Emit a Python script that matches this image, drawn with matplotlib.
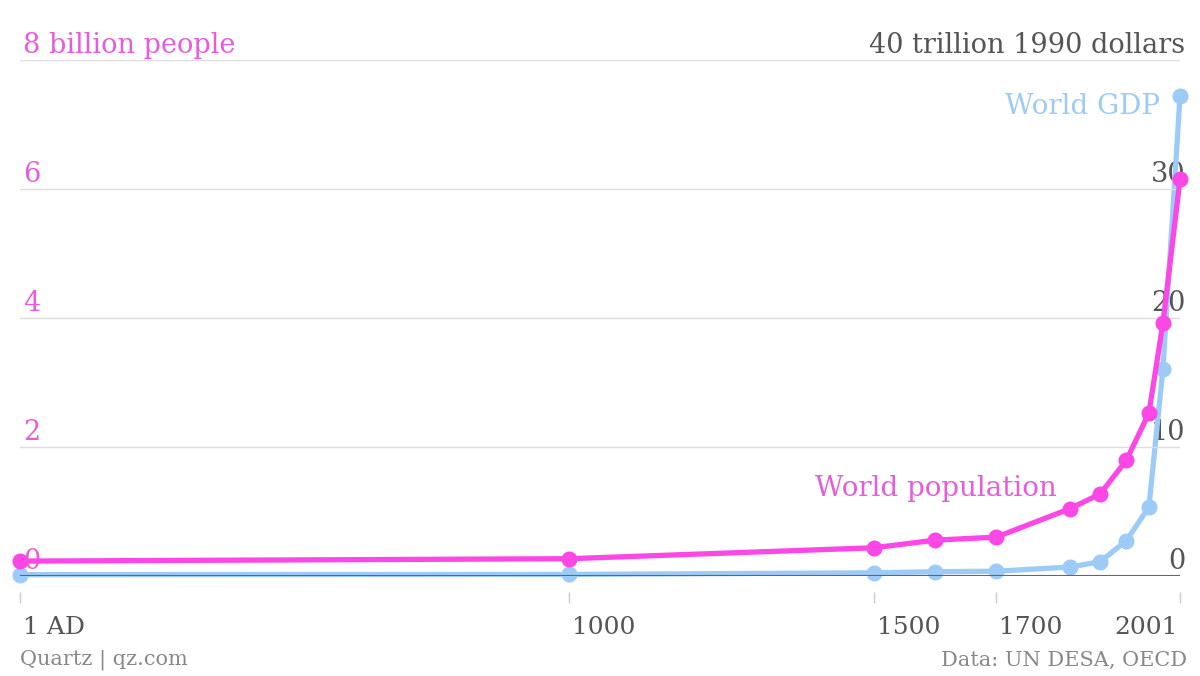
import numpy as np
import matplotlib.pyplot as plt

# Years of each observation
years = [1, 1000, 1500, 1600, 1700, 1820, 1870, 1913, 1950, 1973, 2001]
# World population, billions of people
population = [0.231, 0.268, 0.438, 0.556, 0.603, 1.041, 1.270, 1.791, 2.524, 3.916, 6.149]
# World GDP, trillions of 1990 dollars
gdp = [0.105, 0.121, 0.248, 0.332, 0.371, 0.695, 1.101, 2.733, 5.336, 16.023, 37.194]

# Tick years and labels on the x axis
x_ticks = [1, 1000, 1500, 1700, 2001]
x_labels = ['1 AD', '1000', '1500', '1700', '2001']
# Left (population) and right (GDP) axis labels
pop_ticks = [0, 2, 4, 6, 8]
pop_labels = ['0', '2', '4', '6', '8 billion people']
gdp_ticks = [0, 10, 20, 30, 40]
gdp_labels = ['0', '10', '20', '30', '40 trillion 1990 dollars']

PINK = '#fb47e6'
PINK_TEXT = '#e65cda'
BLUE = '#9dcbf7'
GREY = '#555555'

# The original chart squeezes the first millennium relative to the rest
BREAK_YEARS = [1, 1000, 2001]
BREAK_POS = [0, 549, 1160]


def forward(x):
    """Map a year to its position on the axis"""
    return np.interp(x, BREAK_YEARS, BREAK_POS)


def inverse(x):
    """Map an axis position back to a year"""
    return np.interp(x, BREAK_POS, BREAK_YEARS)


def plot_data():
    """Method that plots the data"""
    plt.rcParams['font.family'] = 'DejaVu Serif'
    fig = plt.figure(figsize=(12, 6.76), dpi=100)
    ax = fig.add_axes([20 / 1200, 100 / 676, 1160 / 1200, 516 / 676])
    ax2 = ax.twinx()

    ax.set_xscale('function', functions=(forward, inverse))
    ax.set_xlim(1, 2001)
    ax.set_ylim(0, 8)
    ax2.set_ylim(0, 40)

    # Gridlines and baseline
    for t in pop_ticks[1:]:
        ax.axhline(t, color='#dddddd', linewidth=1, zorder=0)
    ax.axhline(0, color='#666666', linewidth=1.5, zorder=1)

    # Axis labels sit just above the gridlines
    for t, lab in zip(pop_ticks, pop_labels):
        ax.annotate(lab, xy=(0, t), xycoords=ax.get_yaxis_transform(),
                    xytext=(2, 5), textcoords='offset points',
                    ha='left', va='baseline', fontsize=19.5, color=PINK_TEXT, zorder=1)
    for t, lab in zip(gdp_ticks, gdp_labels):
        ax2.annotate(lab, xy=(1, t), xycoords=ax2.get_yaxis_transform(),
                     xytext=(4, 5), textcoords='offset points',
                     ha='right', va='baseline', fontsize=19.5, color=GREY, zorder=1)

    # GDP first, population on top
    ax2.plot(years, gdp, color=BLUE, linewidth=3.8, marker='o', markersize=10.5,
             clip_on=False, zorder=3)
    ax.plot(years, population, color=PINK, linewidth=3.8, marker='o', markersize=10.5,
            clip_on=False, zorder=3)
    ax.set_zorder(ax2.get_zorder() + 1)
    ax.patch.set_visible(False)

    # Series labels
    ax.text(1799, 1.36, 'World population', ha='right', va='center',
            fontsize=20, color=PINK_TEXT)
    ax2.text(1968, 36.4, 'World GDP', ha='right', va='center',
             fontsize=20, color=BLUE)

    # X ticks drawn a little below the baseline, labels placed by hand
    ax.set_xticks(x_ticks)
    ax.set_xticklabels([])
    ax.tick_params(axis='x', length=8, width=1, color='#cccccc')
    ax.spines['bottom'].set_position(('outward', 11.5))
    for i, (t, lab) in enumerate(zip(x_ticks, x_labels)):
        last = i == len(x_ticks) - 1
        ax.annotate(lab, xy=(t, 0), xycoords=ax.get_xaxis_transform(),
                    xytext=(-2 if last else 2, -42), textcoords='offset points',
                    ha='right' if last else 'left', va='baseline',
                    fontsize=18, color=GREY)

    for a in (ax, ax2):
        a.set_yticks([])
        for s in a.spines.values():
            s.set_visible(False)

    # Footer
    fig.text(20 / 1200, 1 - 660 / 676, 'Quartz | qz.com', ha='left', va='center',
             fontsize=15, color='#888888')
    fig.text(1187 / 1200, 1 - 660 / 676, 'Data: UN DESA, OECD', ha='right', va='center',
             fontsize=15, color='#888888')

    fig.savefig('out.png', dpi=100)


if __name__ == '__main__':
    plot_data()
